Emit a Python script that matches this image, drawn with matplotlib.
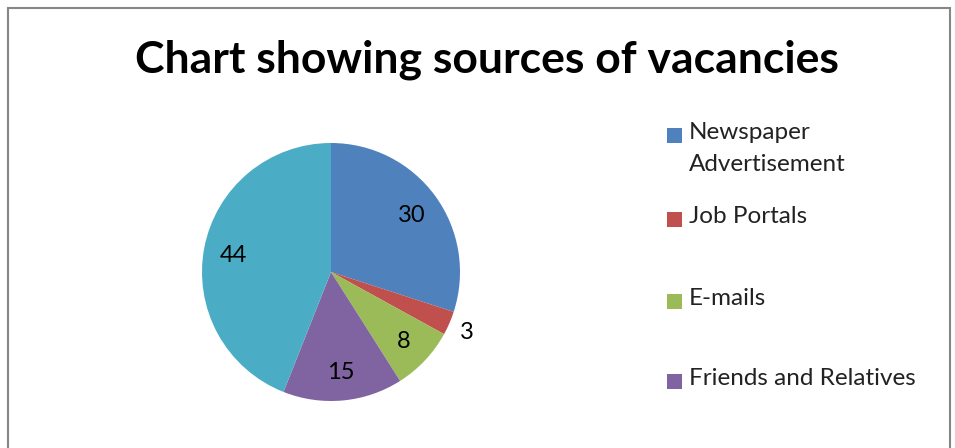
import matplotlib.pyplot as plt
from matplotlib.patches import Rectangle
import numpy as np

# data
sources = ['Newspaper\nAdvertisement', 'Job Portals', 'E-mails', 'Friends and Relatives', 'Others']
values = [30, 3, 8, 15, 44]
colors = ['#4F81BD', '#C0504D', '#9BBB59', '#8064A2', '#4BACC6']
legend_shown = 4  # last entry is cut off in the original

plt.rcParams['font.family'] = ['Lato', 'DejaVu Sans']

W, H = 955, 448
fig = plt.figure(figsize=(W / 100, H / 100), dpi=100)

# chart area border
fig.patches.append(Rectangle((8 / W, -0.1), (950 - 8) / W, (H - 8) / H + 0.1,
                             transform=fig.transFigure, fill=False,
                             edgecolor='#868686', linewidth=1.5))

fig.text(487 / W, 1 - 60 / H, 'Chart showing sources of vacancies',
         ha='center', va='center', fontsize=32, fontweight='bold', color='black')

# pie
cx, cy, r = 331, 272, 129
ax = fig.add_axes([(cx - r) / W, (H - cy - r) / H, 2 * r / W, 2 * r / H])
wedges, _ = ax.pie(values, colors=colors, startangle=90, counterclock=False,
                   wedgeprops=dict(linewidth=0))
ax.set_xlim(-1, 1)
ax.set_ylim(-1, 1)
ax.set_aspect('equal')
ax.axis('off')

# value labels
for w, v in zip(wedges, values):
    ang = np.deg2rad((w.theta1 + w.theta2) / 2)
    d = 1.15 if v < 5 else 0.77
    ax.text(d * np.cos(ang), d * np.sin(ang), str(v), ha='center', va='center_baseline',
            fontsize=17, color='black', clip_on=False)

# legend
leg_y = [135, 219, 301, 381]
for i in range(legend_shown):
    y = leg_y[i]
    fig.patches.append(Rectangle((667 / W, 1 - (y + 8) / H), 15 / W, 15 / H,
                                 transform=fig.transFigure, facecolor=colors[i],
                                 edgecolor='none'))
    fig.text(689 / W, 1 - (y - 13) / H, sources[i], ha='left', va='top',
             fontsize=17.5, color='#222222', linespacing=1.65)

fig.savefig('out.png', dpi=100)
